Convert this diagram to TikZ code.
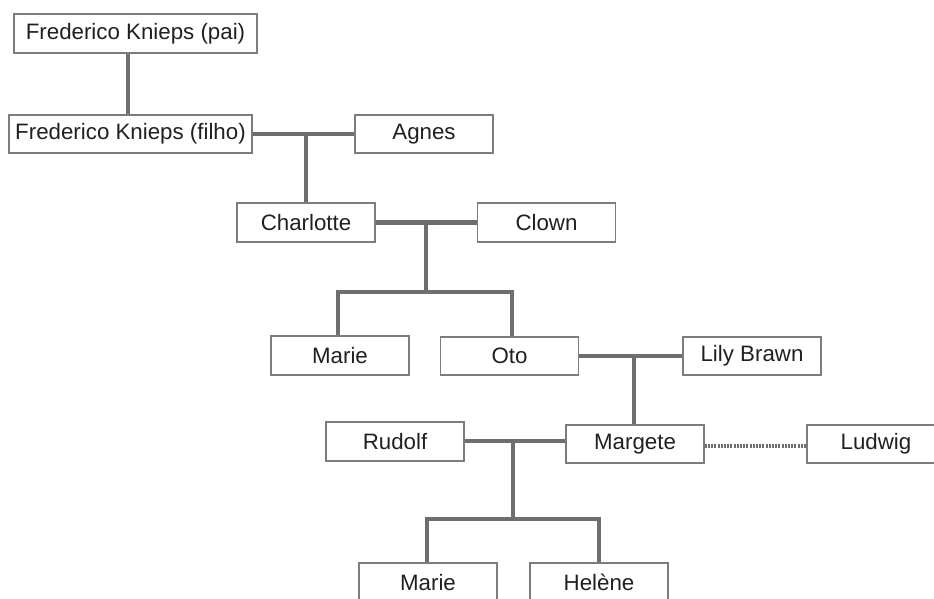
\documentclass[tikz,border=0pt]{standalone}
\usepackage{fontspec}
\setmainfont{Liberation Sans}
\definecolor{linegray}{HTML}{6E6E70}
\definecolor{boxgray}{HTML}{7C7C7E}
\definecolor{txt}{HTML}{231F20}
\begin{document}
\begin{tikzpicture}[x=1pt,y=-1pt,
  person/.style={draw=boxgray, line width=1.6pt, fill=white, rectangle,
    minimum height=38.5pt, inner sep=0pt, text=txt,
    font=\fontsize{22.3}{26}\selectfont},
  wide/.style={person, minimum width=243pt},
  narrow/.style={person, minimum width=138pt},
  link/.style={draw=linegray, line width=4.2pt},
  dotlink/.style={draw=linegray, line width=4pt, dash pattern=on 2pt off 1.2pt}]
\useasboundingbox (0,0) rectangle (934,598);
\clip (0,0) rectangle (934,598);
\fill[white] (0,0) rectangle (934,598);

\coordinate (b1) at (426,292);
\coordinate (b2) at (513,519);

% nodes
\node[wide]   (pai)       at (135.5,33.5) {Frederico Knieps (pai)};
\node[wide]   (filho)     at (130.5,134)  {Frederico Knieps (filho)};
\node[narrow] (agnes)     at (424,134)    {Agnes};
\node[narrow] (charlotte) at (306,222.5)  {Charlotte};
\node[narrow] (clown)     at (546.5,222.5){Clown};
\node[narrow] (marieA)    at (340,355.5)  {Marie};
\node[narrow] (oto)       at (509.5,356)  {Oto};
\node[narrow] (lily)      at (752,356)    {Lily Brawn};
\node[narrow] (rudolf)    at (395,441.5)  {Rudolf};
\node[narrow] (margete)   at (635,444)    {Margete};
\node[narrow] (ludwig)    at (876,444)    {Ludwig};
\node[narrow] (marieB)    at (428,582.5)  {Marie};
\node[narrow] (helene)    at (599,582.5)  {Helène};

% connectors
\draw[link] ([xshift=-7.5pt]pai.south) -- ([xshift=-7.5pt]pai.south |- filho.north);
\draw[link] (filho.east) -- (agnes.west);
\draw[link] (charlotte.north) -- (charlotte.north |- filho.east);
\draw[link] (charlotte.east) -- (clown.west);
\draw[link] (b1) -- (b1 |- charlotte.east);
\draw[link] ([xshift=-2pt]marieA.north) |- (b1) -| ([xshift=2.5pt]oto.north);
\draw[link] (oto.east) -- (lily.west);
\draw[link] ([xshift=-1pt]margete.north) -- ([xshift=-1pt]margete.north |- oto.east);
\draw[link] ([yshift=0.5pt]rudolf.east) -- ([yshift=0.5pt]rudolf.east -| margete.west);
\draw[link] (b2) -- (b2 |- rudolf.east);
\draw[link] ([xshift=-1pt]marieB.north) |- (b2) -| (helene.north);
\draw[dotlink] ([yshift=-2pt]margete.east) -- ([yshift=-2pt]ludwig.west);
\end{tikzpicture}
\end{document}
